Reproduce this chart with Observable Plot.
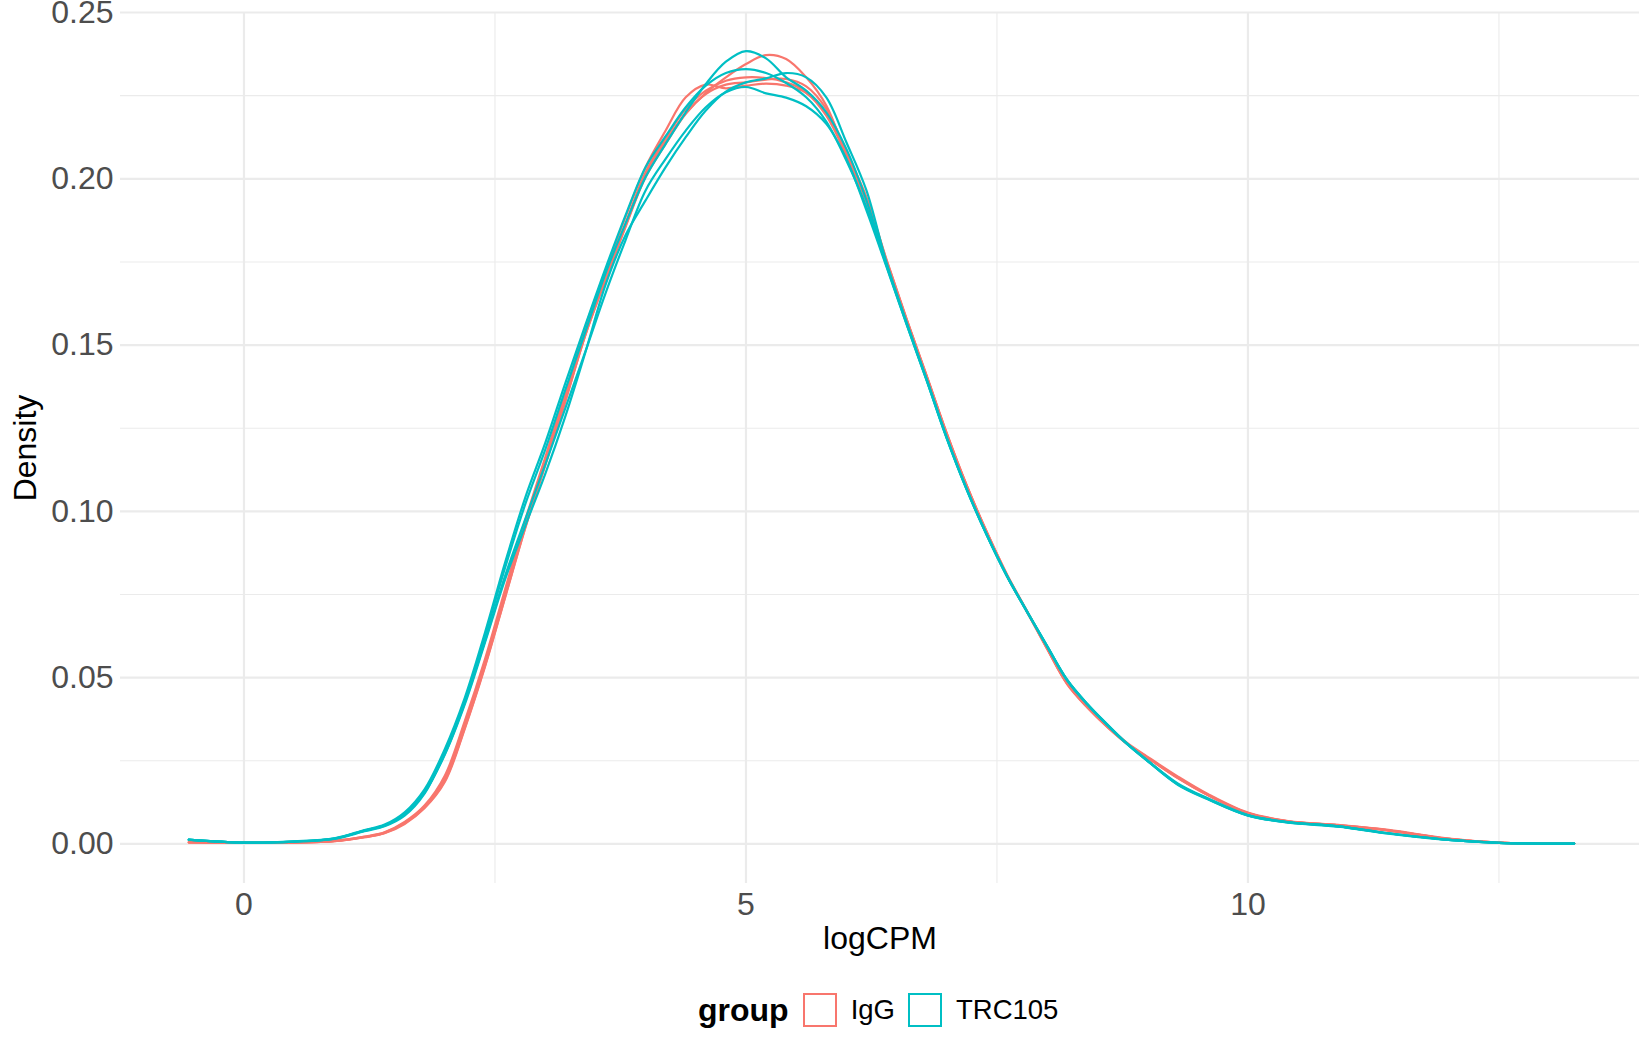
<!DOCTYPE html>
<html>
<head>
<meta charset="utf-8">
<script src="https://cdn.jsdelivr.net/npm/d3@7"></script>
<script src="https://cdn.jsdelivr.net/npm/@observablehq/plot@0.6"></script>
<style>
  html, body { margin: 0; padding: 0; background: #fff; overflow: hidden; }
  body { width: 1650px; height: 1050px; position: relative; font-family: "Liberation Sans", Arial, Helvetica, sans-serif; }
  #legend { position: absolute; top: 970px; left: 698px; height: 80px; display: flex; align-items: center; }
  #legend .title { font-weight: bold; font-size: 32px; color: #000; margin-right: 14px; }
  #legend .key { box-sizing: border-box; width: 34px; height: 34px; border: 2.2px solid; margin-right: 14px; }
  #legend .lab { font-size: 27.5px; color: #000; margin-right: 13px; }
</style>
</head>
<body>
<div id="chart"></div>
<div id="legend"></div>
<script>
// ---- data ----
const logCPM = [-0.55, 0, 0.5, 0.9, 1.2, 1.4, 1.6, 1.8, 2.0, 2.2, 2.4, 2.6, 2.8, 3.0, 3.2, 3.4, 3.6, 3.8,
  4.0, 4.2, 4.4, 4.6, 4.8, 5.0, 5.2, 5.4, 5.6, 5.8, 6.0, 6.2, 6.4, 6.6, 6.8, 7.0, 7.2, 7.4, 7.6, 7.8,
  8.0, 8.2, 8.4, 8.6, 8.8, 9.0, 9.3, 9.6, 10.0, 10.4, 10.9, 11.4, 12.0, 12.5, 13.25];

const IgG_1 = [0.0005, 0.0003, 0.0004, 0.0009, 0.0022, 0.0035, 0.0066, 0.0116, 0.0205, 0.0370, 0.0555, 0.0765, 0.0972, 0.1162, 0.1355, 0.1555, 0.1722, 0.1885,
  0.2035, 0.2145, 0.2245, 0.2283, 0.2272, 0.2280, 0.2286, 0.2280, 0.2258, 0.2190, 0.2070, 0.1930, 0.1748, 0.1573, 0.1403, 0.1230, 0.1073, 0.0933, 0.0806, 0.0697,
  0.0587, 0.0481, 0.0411, 0.0352, 0.0300, 0.0259, 0.0199, 0.0147, 0.0093, 0.0068, 0.0056, 0.0041, 0.0015, 0.0004, 0.0001];
const IgG_2 = [0.0005, 0.0003, 0.0004, 0.0008, 0.0020, 0.0033, 0.0062, 0.0110, 0.0190, 0.0350, 0.0535, 0.0742, 0.0950, 0.1140, 0.1332, 0.1530, 0.1695, 0.1855,
  0.2005, 0.2105, 0.2195, 0.2258, 0.2305, 0.2345, 0.2372, 0.2360, 0.2305, 0.2220, 0.2070, 0.1940, 0.1755, 0.1578, 0.1408, 0.1235, 0.1077, 0.0937, 0.0810, 0.0700,
  0.0590, 0.0484, 0.0414, 0.0355, 0.0303, 0.0262, 0.0203, 0.0150, 0.0094, 0.0069, 0.0057, 0.0042, 0.0016, 0.0004, 0.0001];
const IgG_3 = [0.0005, 0.0003, 0.0004, 0.0009, 0.0021, 0.0034, 0.0064, 0.0112, 0.0195, 0.0357, 0.0542, 0.0750, 0.0958, 0.1148, 0.1340, 0.1540, 0.1705, 0.1865,
  0.2020, 0.2122, 0.2210, 0.2265, 0.2295, 0.2305, 0.2303, 0.2290, 0.2262, 0.2195, 0.2075, 0.1935, 0.1750, 0.1575, 0.1405, 0.1232, 0.1075, 0.0935, 0.0808, 0.0698,
  0.0588, 0.0482, 0.0412, 0.0353, 0.0301, 0.0260, 0.0200, 0.0148, 0.0093, 0.0068, 0.0056, 0.0041, 0.0015, 0.0004, 0.0001];
const IgG_4 = [0.0004, 0.0003, 0.0004, 0.0008, 0.0020, 0.0032, 0.0060, 0.0108, 0.0186, 0.0347, 0.0532, 0.0740, 0.0948, 0.1138, 0.1330, 0.1530, 0.1697, 0.1858,
  0.2010, 0.2112, 0.2197, 0.2255, 0.2283, 0.2290, 0.2298, 0.2300, 0.2278, 0.2210, 0.2080, 0.1945, 0.1757, 0.1578, 0.1407, 0.1234, 0.1077, 0.0937, 0.0809, 0.0699,
  0.0586, 0.0480, 0.0410, 0.0351, 0.0300, 0.0259, 0.0198, 0.0147, 0.0092, 0.0067, 0.0055, 0.0040, 0.0015, 0.0004, 0.0001];

const TRC105_1 = [0.0013, 0.0004, 0.0007, 0.0015, 0.0038, 0.0053, 0.0085, 0.0152, 0.0275, 0.0430, 0.0625, 0.0830, 0.1020, 0.1185, 0.1365, 0.1540, 0.1715, 0.1865,
  0.2005, 0.2105, 0.2200, 0.2285, 0.2352, 0.2384, 0.2362, 0.2305, 0.2265, 0.2200, 0.2090, 0.1935, 0.1742, 0.1566, 0.1396, 0.1222, 0.1066, 0.0929, 0.0806, 0.0699,
  0.0595, 0.0493, 0.0421, 0.0359, 0.0300, 0.0250, 0.0180, 0.0136, 0.0086, 0.0065, 0.0053, 0.0032, 0.0012, 0.0003, 0.0001];
const TRC105_2 = [0.0012, 0.0004, 0.0007, 0.0016, 0.0040, 0.0056, 0.0090, 0.0158, 0.0270, 0.0425, 0.0610, 0.0805, 0.0975, 0.1140, 0.1310, 0.1480, 0.1655, 0.1815,
  0.1965, 0.2060, 0.2145, 0.2215, 0.2260, 0.2276, 0.2257, 0.2244, 0.2218, 0.2165, 0.2060, 0.1905, 0.1735, 0.1562, 0.1393, 0.1219, 0.1064, 0.0927, 0.0804, 0.0697,
  0.0593, 0.0491, 0.0419, 0.0357, 0.0299, 0.0249, 0.0178, 0.0134, 0.0085, 0.0064, 0.0052, 0.0031, 0.0012, 0.0003, 0.0001];
const TRC105_3 = [0.0013, 0.0004, 0.0007, 0.0016, 0.0040, 0.0055, 0.0088, 0.0155, 0.0268, 0.0420, 0.0605, 0.0795, 0.0955, 0.1112, 0.1285, 0.1478, 0.1680, 0.1830,
  0.1935, 0.2035, 0.2125, 0.2205, 0.2262, 0.2290, 0.2302, 0.2318, 0.2305, 0.2245, 0.2110, 0.1965, 0.1748, 0.1568, 0.1397, 0.1222, 0.1066, 0.0929, 0.0806, 0.0699,
  0.0595, 0.0493, 0.0421, 0.0359, 0.0301, 0.0251, 0.0182, 0.0137, 0.0087, 0.0066, 0.0053, 0.0032, 0.0012, 0.0003, 0.0001];
const TRC105_4 = [0.0013, 0.0004, 0.0008, 0.0017, 0.0042, 0.0058, 0.0095, 0.0165, 0.0285, 0.0440, 0.0635, 0.0845, 0.1040, 0.1205, 0.1385, 0.1560, 0.1730, 0.1890,
  0.2035, 0.2128, 0.2215, 0.2280, 0.2318, 0.2330, 0.2318, 0.2288, 0.2245, 0.2172, 0.2055, 0.1915, 0.1738, 0.1563, 0.1394, 0.1220, 0.1065, 0.0928, 0.0805, 0.0698,
  0.0594, 0.0492, 0.0420, 0.0358, 0.0300, 0.0250, 0.0179, 0.0135, 0.0086, 0.0065, 0.0053, 0.0032, 0.0012, 0.0003, 0.0001];

const groups = ["IgG", "TRC105"];
const groupColors = ["#F8766D", "#00BFC4"];
const xMajor = [0, 5, 10];
const xMinor = [2.5, 7.5, 12.5];
const yMajor = [0, 0.05, 0.10, 0.15, 0.20, 0.25];
const yMinor = [0.025, 0.075, 0.125, 0.175, 0.225];

const samples = [
  {sample: "IgG_1", group: "IgG", values: IgG_1},
  {sample: "IgG_2", group: "IgG", values: IgG_2},
  {sample: "IgG_3", group: "IgG", values: IgG_3},
  {sample: "IgG_4", group: "IgG", values: IgG_4},
  {sample: "TRC105_1", group: "TRC105", values: TRC105_1},
  {sample: "TRC105_2", group: "TRC105", values: TRC105_2},
  {sample: "TRC105_3", group: "TRC105", values: TRC105_3},
  {sample: "TRC105_4", group: "TRC105", values: TRC105_4}
];
const rows = samples.flatMap(s => logCPM.map((x, i) => ({x, density: s.values[i], sample: s.sample, group: s.group})));

const font = "Liberation Sans, Arial, Helvetica, sans-serif";
const chart = Plot.plot({
  width: 1650,
  height: 970,
  marginLeft: 120,
  marginRight: 11,
  marginTop: 12,
  marginBottom: 87,
  style: {fontFamily: font, background: "#fff", overflow: "visible"},
  x: {domain: [-1.23, 13.9]},
  y: {domain: [-0.0119, 0.25]},
  color: {domain: groups, range: groupColors},
  marks: [
    Plot.gridX(xMinor, {stroke: "#EBEBEB", strokeOpacity: 1, strokeWidth: 1.1}),
    Plot.gridY(yMinor, {stroke: "#EBEBEB", strokeOpacity: 1, strokeWidth: 1.1}),
    Plot.gridX(xMajor, {stroke: "#EBEBEB", strokeOpacity: 1, strokeWidth: 2.2}),
    Plot.gridY(yMajor, {stroke: "#EBEBEB", strokeOpacity: 1, strokeWidth: 2.2}),
    Plot.axisX(xMajor, {tickSize: 0, tickPadding: 9, fontSize: 32, fill: "#4D4D4D", label: null, tickFormat: d3.format("d")}),
    Plot.axisY(yMajor, {tickSize: 0, tickPadding: 7, fontSize: 32, fill: "#4D4D4D", label: null, tickFormat: d3.format(".2f")}),
    Plot.line(rows, {x: "x", y: "density", z: "sample", stroke: "group", strokeWidth: 2.2, curve: "catmull-rom"}),
    Plot.text(["logCPM"], {text: d => d, frameAnchor: "bottom", lineAnchor: "middle", textAnchor: "middle", dy: 55.4, fontSize: 32, fill: "#000"}),
    Plot.text(["Density"], {text: d => d, frameAnchor: "left", lineAnchor: "middle", textAnchor: "middle", dx: -95, rotate: -90, fontSize: 32, fill: "#000"})
  ]
});
document.getElementById("chart").appendChild(chart);

// legend below the svg
const legend = document.getElementById("legend");
const t = document.createElement("span");
t.className = "title";
t.textContent = "group";
legend.appendChild(t);
groups.forEach((g, i) => {
  const k = document.createElement("span");
  k.className = "key";
  k.style.borderColor = groupColors[i];
  legend.appendChild(k);
  const l = document.createElement("span");
  l.className = "lab";
  l.textContent = g;
  legend.appendChild(l);
});
</script>
</body>
</html>
